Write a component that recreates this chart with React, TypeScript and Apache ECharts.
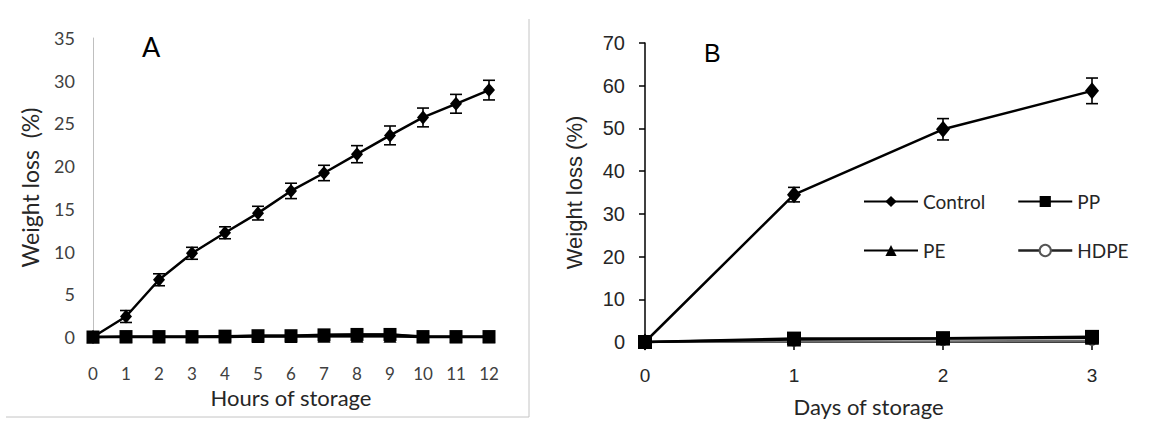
import React, { useEffect, useRef } from "react";
import * as echarts from "echarts";

// ---- Data ----
const hoursA = [0, 1, 2, 3, 4, 5, 6, 7, 8, 9, 10, 11, 12];
const controlA = [0, 2.4, 6.7, 9.8, 12.2, 14.5, 17.1, 19.2, 21.4, 23.6, 25.7, 27.3, 28.9];
const controlAErr = [0, 0.7, 0.7, 0.7, 0.7, 0.8, 0.9, 0.9, 1.0, 1.1, 1.1, 1.1, 1.15];
const ppA = [0, 0.05, 0.05, 0.05, 0.1, 0.15, 0.15, 0.25, 0.3, 0.3, 0.05, 0.05, 0.05];
const peA = [0, 0, 0, 0, 0, 0.05, 0.05, 0.1, 0.1, 0.1, 0, 0, 0];
const hdpeA = [0, 0, 0, 0, 0.05, 0.2, 0.2, 0.25, 0.35, 0.35, 0, 0, 0];

const daysB = [0, 1, 2, 3];
const controlB = [0, 34.5, 49.8, 58.8];
const controlBErr = [0, 1.7, 2.5, 3.0];
const ppB = [0, 0.8, 0.9, 1.2];
const peB = [0, 0.6, 0.8, 1.0];
const hdpeB = [0, 0.1, 0.2, 0.3];

const legendLeft = ["Control", "PE"];
const legendRight = ["PP", "HDPE"];

const pairs = (xs: number[], ys: number[]) => xs.map((x, i) => [x, ys[i]]);
const errData = (xs: number[], ys: number[], es: number[]) =>
  xs.filter((_, i) => es[i] > 0).map((x) => {
    const i = xs.indexOf(x);
    return [x, ys[i] - es[i], ys[i] + es[i]];
  });

const CAL = "Lato";
const ARIAL = "Liberation Sans";

function errorBarSeries(xi: number, data: number[][], hw: number) {
  return {
    type: "custom",
    xAxisIndex: xi,
    yAxisIndex: xi,
    z: 5,
    encode: { x: 0, y: [1, 2] },
    data,
    renderItem: (params: any, api: any) => {
      const x = api.value(0);
      const lo = api.value(1);
      const hi = api.value(2);
      const t = api.coord([x, hi]);
      const b = api.coord([x, lo]);
      const st = { stroke: "#000", lineWidth: 1.6 };
      return {
        type: "group",
        children: [
          { type: "line", shape: { x1: t[0], y1: t[1], x2: b[0], y2: b[1] }, style: st },
          { type: "line", shape: { x1: t[0] - hw, y1: t[1], x2: t[0] + hw, y2: t[1] }, style: st },
          { type: "line", shape: { x1: b[0] - hw, y1: b[1], x2: b[0] + hw, y2: b[1] }, style: st },
        ],
      };
    },
  };
}

function lineSeries(name: string, idx: number, data: number[][], kind: string, big: boolean) {
  const base: any = {
    name,
    type: "line",
    xAxisIndex: idx,
    yAxisIndex: idx,
    data,
    clip: false,
    lineStyle: { color: "#000", width: 2.5 },
    itemStyle: { color: "#000" },
  };
  if (kind === "diamond") {
    base.symbol = "diamond";
    base.symbolSize = big ? [14, 17] : [12, 14];
  } else if (kind === "rect") {
    base.symbol = "rect";
    base.symbolSize = big ? 14 : 13;
  } else if (kind === "triangle") {
    base.symbol = "triangle";
    base.symbolSize = big ? 14 : 13;
  } else {
    base.symbol = "circle";
    base.symbolSize = 9;
    base.lineStyle = { color: "#6e6e6e", width: 2 };
    base.itemStyle = { color: "#fff", borderColor: "#555", borderWidth: 1.3 };
  }
  return base;
}

export default function App() {
  const ref = useRef<HTMLDivElement>(null);
  useEffect(() => {
    if (!ref.current) return;
    const chart = echarts.init(ref.current, undefined, { renderer: "svg" });
    const legendCommon = {
      orient: "vertical",
      itemWidth: 54,
      itemHeight: 14,
      itemGap: 29,
      textStyle: { fontFamily: CAL, fontSize: 19, color: "#262626" },
      selectedMode: false,
    };
    const legendItem = (n: string) =>
      n === "HDPE" ? { name: n, lineStyle: { color: "#222", width: 2.5 } } : { name: n };
    chart.setOption({
      animation: false,
      backgroundColor: "#fff",
      grid: [
        { left: 93, top: 38, width: 396, height: 299 },
        { left: 645, top: 43, width: 447, height: 299 },
      ],
      xAxis: [
        {
          gridIndex: 0,
          type: "value",
          min: 0,
          max: 12,
          interval: 1,
          axisLine: { show: true, onZero: false, lineStyle: { color: "#bfbfbf", width: 1 } },
          axisTick: { show: false },
          splitLine: { show: false },
          axisLabel: { margin: 28, fontFamily: CAL, fontSize: 17, color: "#404040" },
          name: "Hours of storage",
          nameLocation: "middle",
          nameGap: 49,
          nameTextStyle: { fontFamily: CAL, fontSize: 22, color: "#262626" },
        },
        {
          gridIndex: 1,
          type: "value",
          min: 0,
          max: 3,
          interval: 1,
          axisLine: { show: true, onZero: false, lineStyle: { color: "#000", width: 1.5 } },
          axisTick: { show: true, length: 8, lineStyle: { color: "#000", width: 1.5 } },
          splitLine: { show: false },
          axisLabel: { margin: 24, fontFamily: ARIAL, fontSize: 19, color: "#262626" },
          name: "Days of storage",
          nameLocation: "middle",
          nameGap: 53,
          nameTextStyle: { fontFamily: CAL, fontSize: 22, color: "#262626" },
        },
      ],
      yAxis: [
        {
          gridIndex: 0,
          type: "value",
          min: 0,
          max: 35,
          interval: 5,
          axisLine: { show: true, lineStyle: { color: "#bfbfbf", width: 1 } },
          axisTick: { show: false },
          splitLine: { show: false },
          axisLabel: { margin: 18, fontFamily: CAL, fontSize: 18, color: "#404040" },
          name: "Weight loss  (%)",
          nameLocation: "middle",
          nameRotate: 90,
          nameGap: 52,
          nameTextStyle: { fontFamily: CAL, fontSize: 23, color: "#262626" },
        },
        {
          gridIndex: 1,
          type: "value",
          min: 0,
          max: 70,
          interval: 10,
          axisLine: { show: true, lineStyle: { color: "#000", width: 1.5 } },
          axisTick: { show: true, length: 6, lineStyle: { color: "#000", width: 1.5 } },
          splitLine: { show: false },
          axisLabel: { margin: 20, fontFamily: ARIAL, fontSize: 20, color: "#262626" },
          name: "Weight loss (%)",
          nameLocation: "middle",
          nameRotate: 90,
          nameGap: 60,
          nameTextStyle: { fontFamily: ARIAL, fontSize: 22, color: "#262626" },
        },
      ],
      legend: [
        { ...legendCommon, data: legendLeft.map(legendItem), left: 858, top: 187, itemGap: 30 },
        { ...legendCommon, data: legendRight.map(legendItem), left: 1012, top: 187, itemGap: 30 },
      ],
      graphic: [
        { type: "line", shape: { x1: 529, y1: 19, x2: 529, y2: 417 }, style: { stroke: "#c4c4c4", lineWidth: 1 } },
        { type: "line", shape: { x1: 6, y1: 417, x2: 529, y2: 417 }, style: { stroke: "#c4c4c4", lineWidth: 1 } },
        { type: "text", left: 142, top: 33, style: { text: "A", font: `27px ${CAL}`, fill: "#000" } },
        { type: "text", left: 704, top: 40, style: { text: "B", font: `25px ${ARIAL}`, fill: "#000" } },
      ],
      series: [
        lineSeries("Control", 0, pairs(hoursA, controlA), "diamond", false),
        lineSeries("HDPE", 0, pairs(hoursA, hdpeA), "circle", false),
        lineSeries("PE", 0, pairs(hoursA, peA), "triangle", false),
        lineSeries("PP", 0, pairs(hoursA, ppA), "rect", false),
        errorBarSeries(0, errData(hoursA, controlA, controlAErr), 6),
        lineSeries("Control", 1, pairs(daysB, controlB), "diamond", true),
        lineSeries("HDPE", 1, pairs(daysB, hdpeB), "circle", true),
        lineSeries("PE", 1, pairs(daysB, peB), "triangle", true),
        lineSeries("PP", 1, pairs(daysB, ppB), "rect", true),
        errorBarSeries(1, errData(daysB, controlB, controlBErr), 6),
      ],
    });
    return () => chart.dispose();
  }, []);
  return (
    <div
      ref={ref}
      style={{ position: "fixed", left: 0, top: 0, width: 1153, height: 440, background: "#fff" }}
    />
  );
}
